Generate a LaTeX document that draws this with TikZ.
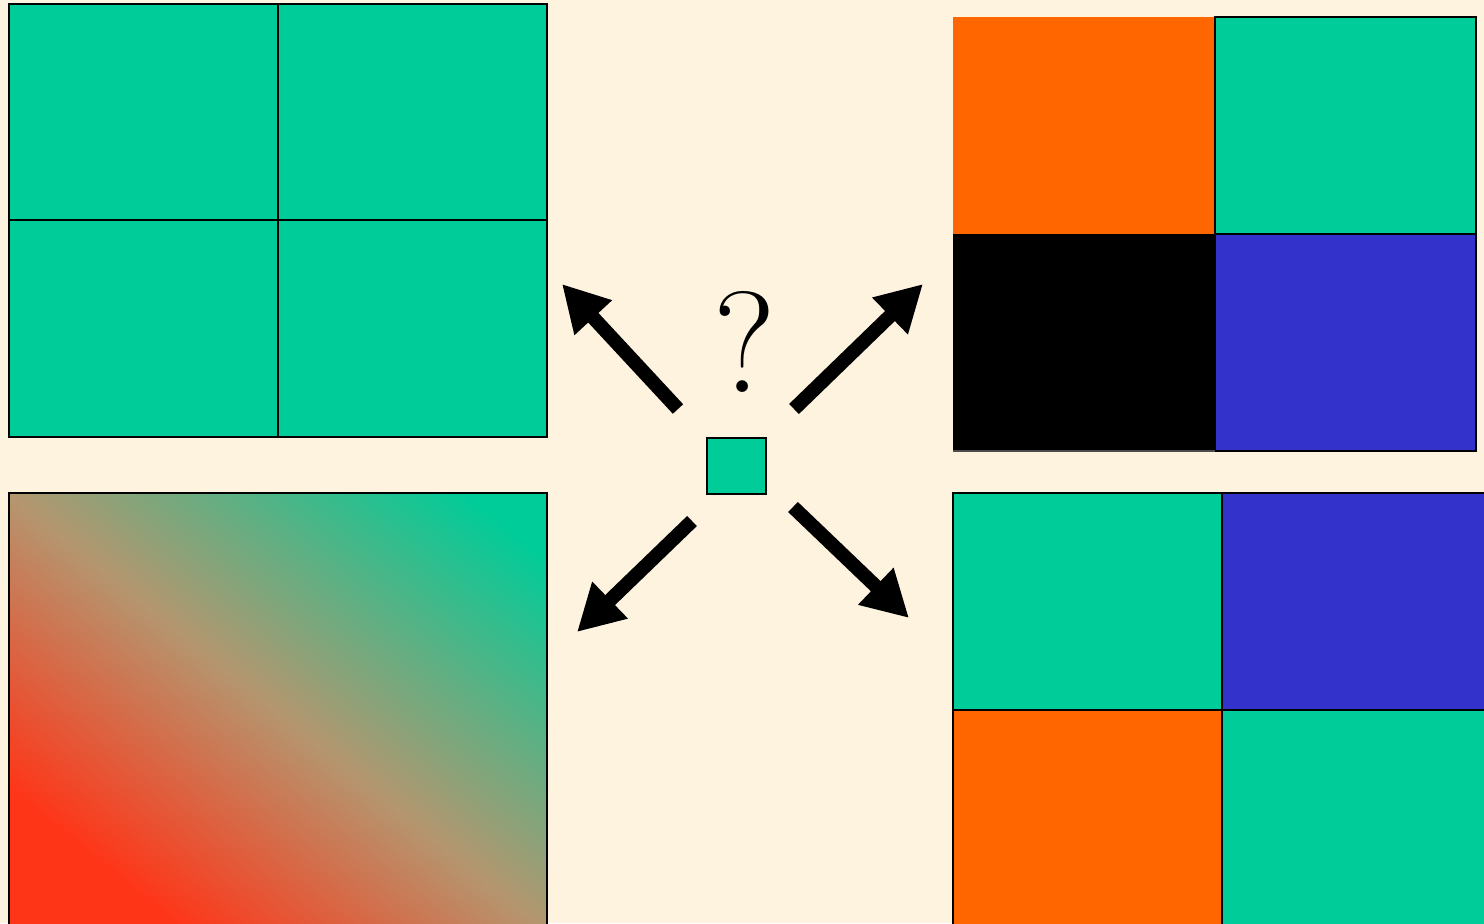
\documentclass[tikz,border=0pt]{standalone}
\usetikzlibrary{arrows.meta}
\definecolor{bg}{HTML}{FDF3DF}
\definecolor{tealc}{HTML}{00CC99}
\definecolor{orangec}{HTML}{FF6600}
\definecolor{bluec}{HTML}{3333CC}
\definecolor{gred}{HTML}{FF3518}
\definecolor{gmid}{HTML}{B4966F}
\pgfdeclarehorizontalshading{redteal}{100bp}{color(0bp)=(gred); color(26bp)=(gred); color(50bp)=(gmid); color(80bp)=(tealc); color(100bp)=(tealc)}
\tikzset{
  cell/.style={draw=black, line width=1pt},
  bigarrow/.style={line width=7pt, -{Triangle[length=23pt,width=24pt]}}
}
\begin{document}
\begin{tikzpicture}[x=0.5pt,y=-0.5pt]
\useasboundingbox (0,0) rectangle (1484,923);
\clip (0,0) rectangle (1484,923);
\fill[bg] (0,0) rectangle (1484,923);
% top-left panel
\fill[tealc] (9,4) rectangle (547,437);
\draw[cell] (9,4) rectangle (547,437);
\draw[cell] (278,4) -- (278,437);
\draw[cell] (9,220) -- (547,220);
% top-right panel
\fill[orangec] (953,17) rectangle (1215,234);
\fill[black] (953,234) rectangle (1215,451);
\fill[tealc] (1215,17) rectangle (1476,234);
\draw[cell] (1215,17) rectangle (1476,234);
\fill[bluec] (1215,234) rectangle (1476,451);
\draw[cell] (1215,234) rectangle (1476,451);
\draw[line width=0.6pt, black!70] (953,451) -- (1215,451);
% bottom-left gradient panel
\shade[shading=redteal, shading angle=51] (9,493) rectangle (547,930);
\draw[cell] (9,493) rectangle (547,930);
% bottom-right panel
\fill[tealc] (953,493) rectangle (1222,710);
\fill[bluec] (1222,493) rectangle (1490,710);
\fill[orangec] (953,710) rectangle (1222,930);
\fill[tealc] (1222,710) rectangle (1490,930);
\draw[cell] (953,493) rectangle (1490,930);
\draw[cell] (1222,493) -- (1222,930);
\draw[cell] (953,710) -- (1490,710);
% centre square
\node[cell, fill=tealc, minimum width=29.5pt, minimum height=28pt, inner sep=0pt, anchor=north west] (sq) at (706,437) {};
% question mark
\node[inner sep=0pt, font=\fontsize{72pt}{72pt}\selectfont] (q) at (745,342) {?};
% arrows
\coordinate (ult) at (678,409); \coordinate (ulh) at (562,284);
\coordinate (urt) at (794,409); \coordinate (urh) at (923,284);
\coordinate (llt) at (692,521); \coordinate (llh) at (577,632);
\coordinate (lrt) at (793,507); \coordinate (lrh) at (909,618);
\draw[bigarrow] (ult) -- (ulh);
\draw[bigarrow] (urt) -- (urh);
\draw[bigarrow] (llt) -- (llh);
\draw[bigarrow] (lrt) -- (lrh);
\end{tikzpicture}
\end{document}
